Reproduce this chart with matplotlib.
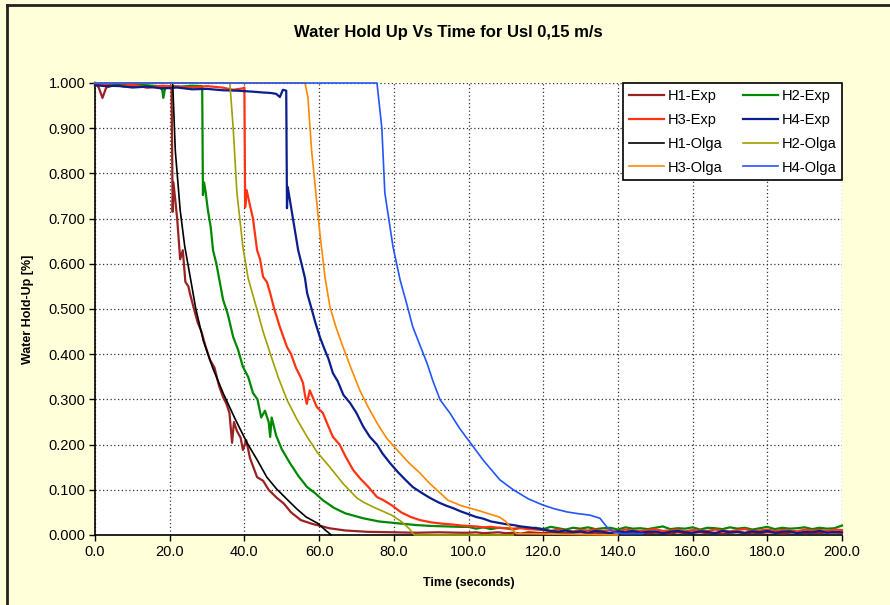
import matplotlib
matplotlib.use('Agg')
import matplotlib.pyplot as plt
from matplotlib.lines import Line2D

plt.rcParams['font.family'] = ['Liberation Sans', 'DejaVu Sans']

# ---- data (time in s, hold-up fraction) ----
# experimental series, first part (before the noisy tail)
h1_exp_t = [0, 1, 2, 3, 5, 8, 11, 14, 17, 19, 20.5, 20.8, 21.0, 21.5, 22, 22.8, 23.5, 24.2, 25.0,
            25.4, 26.5, 27.5, 28.5, 29.5, 30.8, 32, 33.2, 34.3, 35.2, 36.0, 36.7, 37.2, 38.0, 39.0,
            39.6, 40.5, 41.5, 43.4, 45, 46.5, 48.7, 50.5, 52.5, 55.1, 58, 62.7, 67, 73, 80, 86, 92, 98]
h1_exp_v = [1.0, 0.99, 0.967, 0.99, 0.995, 0.992, 0.994, 0.99, 0.992, 0.99, 0.988, 0.715, 0.78,
            0.74, 0.70, 0.61, 0.63, 0.56, 0.55, 0.535, 0.50, 0.47, 0.45, 0.42, 0.387, 0.37, 0.33,
            0.305, 0.29, 0.27, 0.204, 0.25, 0.23, 0.215, 0.188, 0.21, 0.17, 0.128, 0.12, 0.10,
            0.082, 0.07, 0.05, 0.033, 0.025, 0.015, 0.010, 0.007, 0.006, 0.005, 0.006, 0.005]

h2_exp_t = [0, 3, 6, 10, 14, 17, 18, 18.3, 18.8, 20, 23, 26, 28.7, 28.9, 29.2, 29.6, 30.2, 31,
            31.6, 32.5, 33.4, 34.3, 35.5, 37, 38.3, 39.6, 41, 42.3, 43.5, 44.5, 45.5, 46.5, 46.9,
            47.3, 48.5, 50, 52.2, 54.5, 56.8, 59, 61, 64, 67, 71.8, 76, 80.9, 86, 90, 94, 98]
h2_exp_v = [1.0, 0.995, 0.997, 0.996, 0.995, 0.993, 0.985, 0.967, 0.99, 0.993, 0.992, 0.994,
            0.993, 0.752, 0.78, 0.76, 0.72, 0.68, 0.63, 0.60, 0.56, 0.52, 0.49, 0.438, 0.41,
            0.372, 0.35, 0.314, 0.30, 0.26, 0.275, 0.25, 0.217, 0.26, 0.22, 0.19, 0.159, 0.13,
            0.106, 0.092, 0.077, 0.06, 0.048, 0.037, 0.03, 0.026, 0.022, 0.02, 0.019, 0.018]

h3_exp_t = [0, 3, 6, 10, 14, 18, 22, 26, 30, 34, 37, 39.5, 40.0, 40.2, 40.6, 41.2, 42.3, 43.4,
            44.2, 45, 46, 46.9, 48, 49.5, 51.4, 52.5, 53.8, 55.0, 55.7, 56.2, 56.7, 57.5, 59.4,
            61, 62.5, 63.7, 65.5, 67, 69.1, 71, 73, 75.5, 77, 79.4, 82, 84.5, 87, 90, 93, 96, 98]
h3_exp_v = [1.0, 0.995, 0.993, 0.996, 0.99, 0.994, 0.992, 0.99, 0.993, 0.99, 0.985, 0.988, 0.99,
            0.725, 0.763, 0.74, 0.70, 0.63, 0.61, 0.571, 0.56, 0.535, 0.50, 0.46, 0.416, 0.40,
            0.37, 0.35, 0.336, 0.31, 0.29, 0.32, 0.283, 0.27, 0.24, 0.217, 0.20, 0.175, 0.144,
            0.125, 0.108, 0.084, 0.078, 0.066, 0.05, 0.04, 0.033, 0.028, 0.025, 0.023, 0.021]

h4_exp_t = [0, 3, 6, 10, 14, 18, 22, 26, 30, 34, 38, 42, 45, 47, 48.5, 49.5, 50.3, 51.2, 51.4,
            51.6, 52, 53, 54.4, 55.3, 56.2, 56.8, 58, 59, 60.2, 61.5, 62.5, 63.7, 65, 66.5, 68.3,
            70, 71.8, 73.6, 75.5, 77, 79, 81, 83, 85.1, 87.5, 89.7, 92, 94, 96, 98]
h4_exp_v = [0.995, 0.993, 0.994, 0.99, 0.992, 0.988, 0.99, 0.986, 0.987, 0.984, 0.983, 0.981,
            0.979, 0.978, 0.976, 0.969, 0.985, 0.983, 0.723, 0.77, 0.75, 0.70, 0.63, 0.60, 0.569,
            0.535, 0.50, 0.47, 0.438, 0.41, 0.39, 0.358, 0.34, 0.31, 0.292, 0.27, 0.24, 0.217,
            0.20, 0.18, 0.159, 0.14, 0.123, 0.106, 0.093, 0.082, 0.072, 0.065, 0.059, 0.052]

# noisy tail of the experimental series, sampled every 2 s from 100 to 200 s
tail_t = list(range(100, 201, 2))
h1_tail = [0.005, 0.006, 0.004, 0.005, 0.006, 0.004, 0.005, 0.003, 0.006, 0.005,
           0.004, 0.006, 0.005, 0.004, 0.005, 0.006, 0.004, 0.005, 0.003, 0.005,
           0.006, 0.004, 0.005, 0.006, 0.004, 0.005, 0.005, 0.003, 0.006, 0.004,
           0.005, 0.006, 0.004, 0.005, 0.003, 0.005, 0.006, 0.004, 0.005, 0.004,
           0.006, 0.005, 0.003, 0.005, 0.006, 0.004, 0.005, 0.004, 0.006, 0.005, 0.005]
h2_tail = [0.018, 0.014, 0.017, 0.013, 0.016, 0.015, 0.012, 0.017, 0.014, 0.016,
           0.013, 0.018, 0.015, 0.012, 0.016, 0.014, 0.017, 0.013, 0.015, 0.016,
           0.012, 0.017, 0.014, 0.015, 0.013, 0.016, 0.019, 0.013, 0.015, 0.014,
           0.017, 0.012, 0.016, 0.015, 0.013, 0.017, 0.014, 0.016, 0.012, 0.015,
           0.018, 0.013, 0.016, 0.014, 0.015, 0.017, 0.013, 0.016, 0.014, 0.015, 0.021]
h3_tail = [0.020, 0.019, 0.017, 0.018, 0.016, 0.015, 0.014, 0.015, 0.013, 0.012,
           0.011, 0.009, 0.012, 0.010, 0.008, 0.011, 0.010, 0.012, 0.009, 0.011,
           0.008, 0.012, 0.010, 0.009, 0.011, 0.013, 0.009, 0.010, 0.012, 0.008,
           0.011, 0.010, 0.009, 0.012, 0.010, 0.008, 0.011, 0.013, 0.009, 0.010,
           0.012, 0.009, 0.011, 0.010, 0.008, 0.012, 0.010, 0.011, 0.009, 0.012, 0.011]
h4_tail = [0.046, 0.040, 0.036, 0.030, 0.027, 0.024, 0.022, 0.019, 0.017, 0.015,
           0.012, 0.009, 0.007, 0.010, 0.006, 0.008, 0.005, 0.009, 0.007, 0.004,
           0.008, 0.006, 0.009, 0.005, 0.007, 0.008, 0.004, 0.007, 0.009, 0.006,
           0.005, 0.008, 0.007, 0.004, 0.009, 0.006, 0.007, 0.005, 0.008, 0.006,
           0.009, 0.005, 0.007, 0.008, 0.004, 0.007, 0.006, 0.009, 0.005, 0.007, 0.006]

# Olga simulation series
h1_olga_t = [0, 20.8, 21.5, 22.8, 24, 25.4, 27, 29, 31.5, 34.3, 37.5, 40.7, 43.5, 46, 48.5,
             51.4, 54, 56.5, 59.6, 61.5, 62.7, 63.2]
h1_olga_v = [1.0, 1.0, 0.85, 0.719, 0.64, 0.575, 0.50, 0.43, 0.37, 0.314, 0.257, 0.204, 0.165,
             0.128, 0.103, 0.079, 0.058, 0.04, 0.026, 0.012, 0.004, 0.0]
h2_olga_t = [0, 36.1, 37, 38, 39.6, 41, 43.4, 45, 46.9, 49, 51.4, 54, 56.8, 59.5, 62.9, 66.5,
             70.1, 72, 75, 79.4, 82, 84, 85.5, 112]
h2_olga_v = [1.0, 1.0, 0.9, 0.757, 0.637, 0.568, 0.498, 0.45, 0.402, 0.35, 0.299, 0.257, 0.217,
             0.183, 0.15, 0.113, 0.082, 0.072, 0.06, 0.044, 0.03, 0.015, 0.0, 0.0]
h3_olga_t = [0, 56.2, 57, 58, 60.2, 61.6, 62.9, 64.5, 66.4, 68.5, 70.9, 73, 75.5, 78, 80.9, 84,
             87, 89.5, 92.4, 94.5, 98, 102.3, 105, 108.2, 110, 111.4, 112.8, 140]
h3_olga_v = [1.0, 1.0, 0.969, 0.85, 0.668, 0.569, 0.505, 0.46, 0.416, 0.37, 0.32, 0.285, 0.248,
             0.215, 0.188, 0.16, 0.137, 0.115, 0.093, 0.077, 0.065, 0.055, 0.048, 0.04, 0.03,
             0.015, 0.003, 0.0]
h4_olga_t = [0, 75.5, 76.8, 77.6, 79.8, 81.7, 83.5, 85.1, 87, 88.9, 90.5, 92.4, 95, 97.7, 100.4,
             104, 108.4, 112, 116, 120, 123, 126.4, 129.5, 132.5, 135.2, 137, 138.7, 141, 146.7]
h4_olga_v = [1.0, 1.0, 0.9, 0.757, 0.637, 0.564, 0.51, 0.46, 0.42, 0.38, 0.34, 0.299, 0.27,
             0.235, 0.205, 0.165, 0.122, 0.1, 0.08, 0.066, 0.058, 0.051, 0.047, 0.044, 0.037,
             0.018, 0.007, 0.003, 0.003]

x_ticks = [0, 20, 40, 60, 80, 100, 120, 140, 160, 180, 200]
y_ticks = [0.0, 0.1, 0.2, 0.3, 0.4, 0.5, 0.6, 0.7, 0.8, 0.9, 1.0]

bg = '#FFFFD9'
fig = plt.figure(figsize=(8.9, 6.05), dpi=100, facecolor=bg)
ax = fig.add_axes([95 / 890, 70 / 605, 747 / 890, 452 / 605])
ax.set_facecolor('white')

exp_series = [
    ('H1-Exp', h1_exp_t, h1_exp_v, h1_tail, '#992222'),
    ('H2-Exp', h2_exp_t, h2_exp_v, h2_tail, '#008800'),
    ('H3-Exp', h3_exp_t, h3_exp_v, h3_tail, '#FF3311'),
    ('H4-Exp', h4_exp_t, h4_exp_v, h4_tail, '#0A1E8C'),
]
olga_series = [
    ('H1-Olga', h1_olga_t, h1_olga_v, '#000000'),
    ('H2-Olga', h2_olga_t, h2_olga_v, '#A0A000'),
    ('H3-Olga', h3_olga_t, h3_olga_v, '#FF8800'),
    ('H4-Olga', h4_olga_t, h4_olga_v, '#2255FF'),
]

handles = {}
for name, t, v, tail, col in exp_series:
    ln, = ax.plot(t + tail_t, v + tail, color=col, lw=1.6, clip_on=False, zorder=3)
    handles[name] = ln
for name, t, v, col in olga_series:
    ln, = ax.plot(t, v, color=col, lw=1.2, clip_on=False, zorder=4)
    handles[name] = ln

ax.set_xlim(0, 200)
ax.set_ylim(0, 1)
ax.set_xticks(x_ticks)
ax.set_yticks(y_ticks)
ax.set_xticklabels(['%.1f' % x for x in x_ticks])
ax.set_yticklabels(['%.3f' % y for y in y_ticks])
ax.tick_params(labelsize=10.5, direction='out', length=4, width=1, colors='black', pad=3)
ax.grid(True, linestyle=(0, (1, 2)), color='#333333', lw=0.9)
ax.set_axisbelow(True)
for s in ['top', 'right']:
    ax.spines[s].set_visible(False)
for s in ['left', 'bottom']:
    ax.spines[s].set_linewidth(1.2)
    ax.spines[s].set_zorder(2)

ax.set_xlabel('Time (seconds)', fontsize=9, fontweight='bold', labelpad=13)
ax.set_ylabel('Water Hold-Up [%]', fontsize=9, fontweight='bold', labelpad=10)
fig.text(448 / 890, 1 - 32 / 605, 'Water Hold Up Vs Time for Usl 0,15 m/s', fontsize=12,
         fontweight='bold', ha='center', va='center')

order = ['H1-Exp', 'H3-Exp', 'H1-Olga', 'H3-Olga', 'H2-Exp', 'H4-Exp', 'H2-Olga', 'H4-Olga']
leg = ax.legend([handles[k] for k in order], order, loc='upper right', bbox_to_anchor=(1.0, 1.0),
                ncol=2, fontsize=10.5, frameon=True, fancybox=False, framealpha=1,
                edgecolor='black', borderaxespad=0, handlelength=2.4, handletextpad=0.25,
                labelspacing=0.68, columnspacing=1.4, borderpad=0.4)
leg.get_frame().set_linewidth(1.2)
leg.set_zorder(10)

# outer chart frame (top and left edges visible in the crop)
fig.add_artist(Line2D([7 / 890, 1], [1 - 5 / 605, 1 - 5 / 605], color='#222222', lw=2))
fig.add_artist(Line2D([7 / 890, 7 / 890], [0, 1 - 5 / 605], color='#222222', lw=2))

fig.savefig('out.png', dpi=100, facecolor=bg)
